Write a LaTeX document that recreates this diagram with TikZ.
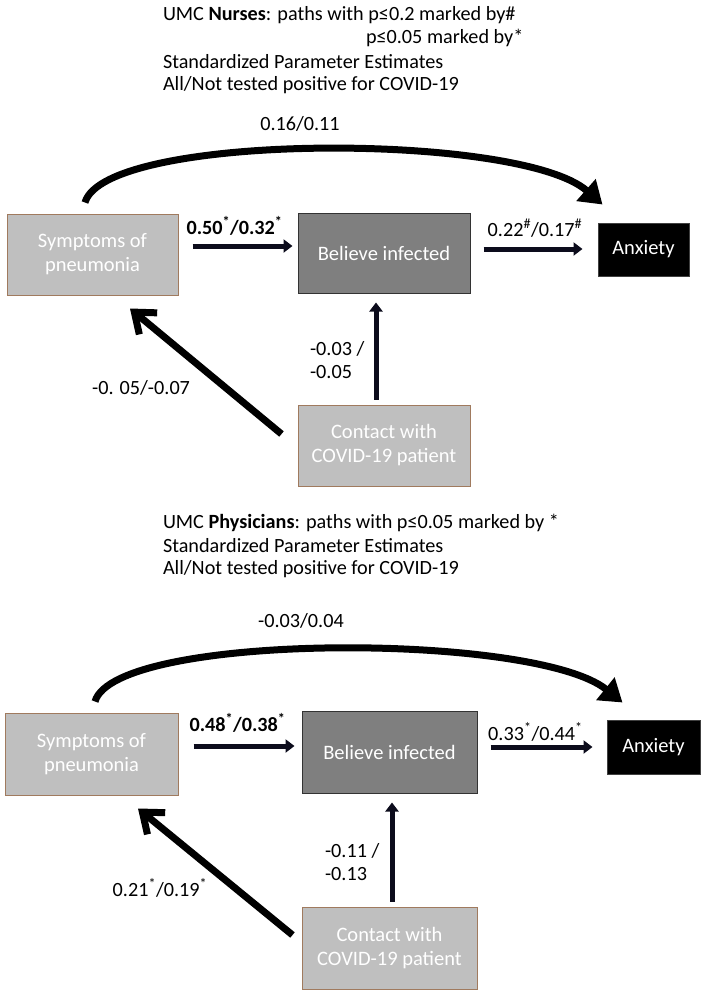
\documentclass[tikz,border=0pt]{standalone}
\usepackage{fontspec}
\setmainfont{Carlito}
\usetikzlibrary{arrows.meta,calc}
\definecolor{boxlight}{HTML}{BFBFBF}
\definecolor{boxdark}{HTML}{7F7F7F}
\definecolor{brownline}{HTML}{A07A5E}
\definecolor{navy}{HTML}{0C0C1C}
\tikzset{
  txt/.style={inner sep=0pt, outer sep=0pt, font=\fontsize{20.2}{23}\selectfont},
  lightbox/.style={draw=brownline, line width=1pt, fill=boxlight, text=white, align=center, inner sep=0pt, font=\fontsize{20.5}{24}\selectfont},
  darkbox/.style={draw=black!80, line width=1pt, fill=boxdark, text=white, align=center, inner sep=0pt, font=\fontsize{20.5}{24}\selectfont},
  blackbox/.style={draw=black!75, line width=1pt, fill=black, text=white, align=center, inner sep=0pt, font=\fontsize{20.5}{24}\selectfont},
  harr/.style={draw=navy, line width=5pt, -{Triangle[length=9pt,width=13pt]}},
  darr/.style={draw=black, line width=7pt, -{Straight Barb[length=18pt,width=28pt]}},
  carr/.style={draw=black, line width=7pt, -{Triangle[length=22pt,width=28pt]}}
}
\begin{document}
\begin{tikzpicture}[x=1pt,y=-1pt]
\useasboundingbox (0,0) rectangle (704,997);
% ---------- Nurses ----------
\node[txt, anchor=west] (h1a) at (163,15) {UMC \textbf{Nurses}: paths with p≤0.2 marked by\#};
\node[txt, anchor=west] (h1b) at (366,38) {p≤0.05 marked by*};
\node[txt, anchor=west] (h1c) at (163,62) {Standardized Parameter Estimates};
\node[txt, anchor=west] (h1d) at (163,85) {All/Not tested positive for COVID-19};

\node[lightbox, minimum width=171pt, minimum height=81pt] (sym1) at (92.5,254.5) {Symptoms of\\pneumonia};
\node[darkbox, minimum width=172pt, minimum height=80pt] (bel1) at (384,253) {Believe infected};
\node[blackbox, minimum width=91pt, minimum height=53pt] (anx1) at (643.5,249.5) {Anxiety};
\node[lightbox, minimum width=172pt, minimum height=81pt] (con1) at (384,445.5) {Contact with\\COVID-19 patient};

\draw[harr] ([xshift=14pt,yshift=8.5pt]sym1.east) -- ([xshift=-5pt,yshift=8.5pt]sym1.east -| bel1.west);
\draw[harr] ([xshift=13pt,yshift=4pt]bel1.east) -- ([xshift=-15pt,yshift=4pt]bel1.east -| anx1.west);
\draw[harr] ([xshift=-8pt,yshift=5pt]con1.north) -- ([xshift=-8pt,yshift=-9pt]bel1.south);
\draw[darr] ([xshift=-16pt,yshift=11.5pt]con1.west) -- ([xshift=37.5pt,yshift=-13pt]sym1.south);
\draw[carr] ([xshift=-7.5pt,yshift=11pt]sym1.north) .. controls (105,132) and (520,132) .. ([xshift=5pt,yshift=18pt]anx1.north west);

\node[txt] (l1a) at (300,124) {0.16/0.11};
\node[txt] (l1b) at (234.5,226) {\textbf{0.50\textsuperscript{*}/0.32\textsuperscript{*}}};
\node[txt] (l1c) at (535,228) {0.22\textsuperscript{\#}/0.17\textsuperscript{\#}};
\node[txt, anchor=west, align=left] (l1d) at (310,360.5) {-0.03 /\\-0.05};
\node[txt, anchor=east] (l1e) at (190,388) {-0. 05/-0.07};

% ---------- Physicians ----------
\node[txt, anchor=west] (h2a) at (163,523) {UMC \textbf{Physicians}: paths with p≤0.05 marked by *};
\node[txt, anchor=west] (h2b) at (163,546) {Standardized Parameter Estimates};
\node[txt, anchor=west] (h2c) at (163,569) {All/Not tested positive for COVID-19};

\node[lightbox, minimum width=173pt, minimum height=82pt] (sym2) at (91.5,754) {Symptoms of\\pneumonia};
\node[darkbox, minimum width=175pt, minimum height=82pt] (bel2) at (389.5,752) {Believe infected};
\node[blackbox, minimum width=93pt, minimum height=54pt] (anx2) at (653.5,747) {Anxiety};
\node[lightbox, minimum width=175pt, minimum height=82pt] (con2) at (389.5,948) {Contact with\\COVID-19 patient};

\draw[harr] ([xshift=15pt,yshift=8pt]sym2.east) -- ([xshift=-7pt,yshift=8pt]sym2.east -| bel2.west);
\draw[harr] ([xshift=13pt,yshift=5pt]bel2.east) -- ([xshift=-14pt,yshift=5pt]bel2.east -| anx2.west);
\draw[harr] ([xshift=2.5pt,yshift=5pt]con2.north) -- ([xshift=2.5pt,yshift=-9pt]bel2.south);
\draw[darr] ([xshift=-9pt,yshift=13pt]con2.west) -- ([xshift=46.5pt,yshift=-13pt]sym2.south);
\draw[carr] ([xshift=3.5pt,yshift=11pt]sym2.north) .. controls (115,632) and (535,632) .. ([xshift=16pt,yshift=17pt]anx2.north west);

\node[txt] (l2a) at (301,621) {-0.03/0.04};
\node[txt] (l2b) at (237.5,723) {\textbf{0.48\textsuperscript{*}/0.38\textsuperscript{*}}};
\node[txt] (l2c) at (535.5,732) {0.33\textsuperscript{*}/0.44\textsuperscript{*}};
\node[txt, anchor=west, align=left] (l2d) at (325,862.5) {-0.11 /\\-0.13};
\node[txt] (l2e) at (160,888) {0.21\textsuperscript{*}/0.19\textsuperscript{*}};
\end{tikzpicture}
\end{document}
